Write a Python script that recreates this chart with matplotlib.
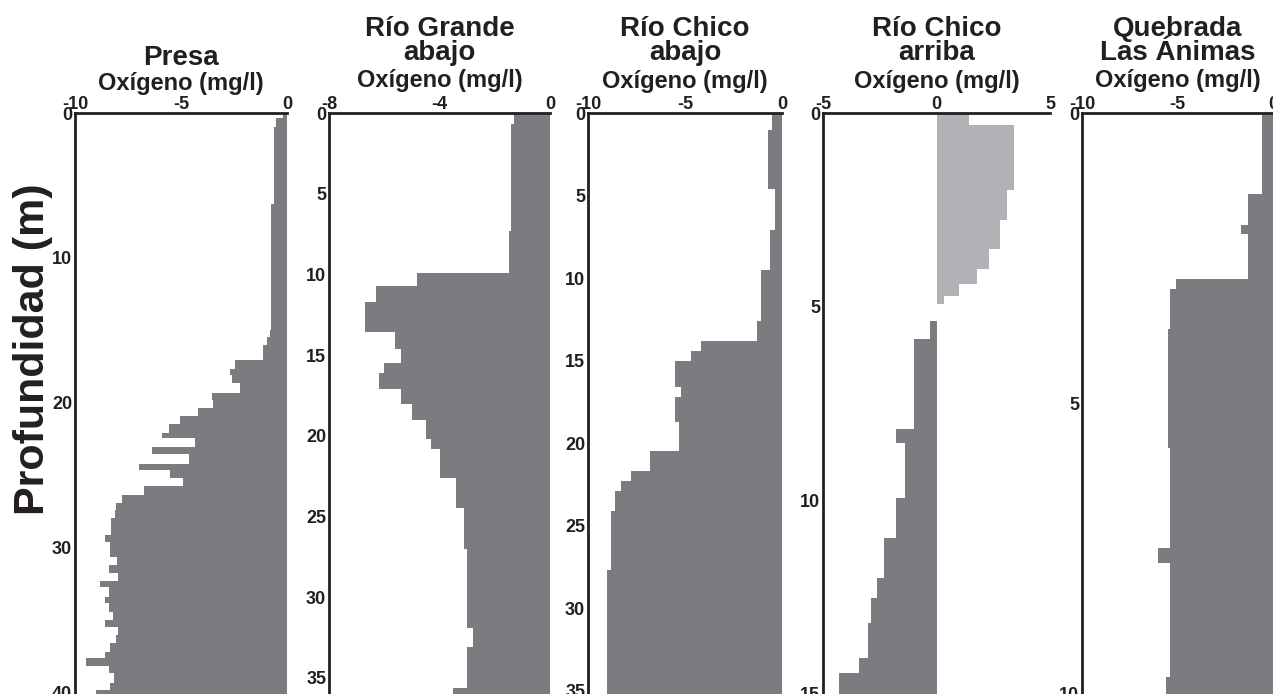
import numpy as np
from matplotlib import pyplot as plt

plt.rcParams['font.family'] = ['Liberation Sans', 'DejaVu Sans']
plt.rcParams['font.weight'] = 'bold'

DARK = '#7b7c80'
LIGHT = '#b1b2b5'
INK = '#231f20'

# Presa
presa_depth = [0, 0.35, 0.95, 6.3, 14.97, 15.43, 16.0, 17.03, 17.68, 18.07, 18.64,
               19.29, 19.79, 20.37, 20.9, 21.47, 22.05, 22.44, 23.06, 23.52, 24.23,
               24.62, 25.2, 25.72, 26.34, 26.87, 27.38, 27.95, 29.1, 29.56, 30.6,
               31.17, 31.7, 32.25, 32.71, 33.36, 33.82, 34.39, 34.97, 35.43, 36.0,
               36.57, 37.15, 37.61, 38.14, 38.64, 39.29, 39.79, 41.0]
presa_oxy = [-0.2, -0.5, -0.6, -0.75, -0.8, -0.96, -1.15, -2.45, -2.7, -2.6, -2.2,
             -3.55, -3.5, -4.2, -5.05, -5.55, -5.9, -4.35, -6.35, -4.6, -7.0, -5.5,
             -4.9, -6.75, -7.8, -8.05, -8.1, -8.3, -8.6, -8.35, -8.0, -8.4, -7.95,
             -8.8, -8.4, -8.6, -8.4, -8.2, -8.6, -7.95, -8.05, -8.35, -8.6, -9.5,
             -8.4, -8.15, -8.35, -9.0]

# Rio Grande abajo
rg_depth = [0, 0.7, 7.3, 9.9, 10.7, 11.7, 13.6, 14.6, 15.5, 16.1, 17.1, 18.0,
            19.0, 20.2, 20.8, 22.6, 24.5, 27.0, 31.9, 33.1, 35.6, 37.0]
rg_oxy = [-1.3, -1.4, -1.5, -4.8, -6.3, -6.7, -5.6, -5.4, -6.0, -6.2, -5.4,
          -5.0, -4.5, -4.3, -4.0, -3.4, -3.1, -3.0, -2.8, -3.0, -3.5]

# Rio Chico abajo
rca_depth = [0, 1.0, 4.6, 7.1, 9.5, 12.6, 13.8, 14.4, 15.0, 16.6, 17.2, 18.7,
             20.5, 21.7, 22.3, 22.9, 24.1, 27.7, 35.6, 37.0]
rca_oxy = [-0.5, -0.7, -0.35, -0.6, -1.1, -1.3, -4.2, -4.7, -5.5, -5.2, -5.5,
           -5.3, -6.8, -7.8, -8.3, -8.6, -8.8, -9.0, -8.8]

# Rio Chico arriba: oxygen above (light) and below (dark) the reference level
rcr_pos_depth = [0, 0.31, 1.98, 2.75, 3.52, 4.04, 4.42, 4.73, 4.94]
rcr_pos_oxy = [1.45, 3.4, 3.1, 2.8, 2.3, 1.8, 1.0, 0.35]
rcr_neg_depth = [5.37, 5.84, 8.15, 8.53, 9.95, 10.98, 12.01, 12.52, 13.16, 14.06,
                 14.45, 15.2]
rcr_neg_oxy = [-0.3, -1.0, -1.8, -1.4, -1.8, -2.3, -2.6, -2.9, -3.0, -3.4, -4.3]

# Quebrada Las Animas
qa_depth = [0, 1.4, 1.92, 2.09, 2.86, 3.03, 3.72, 5.77, 7.48, 7.74, 9.71, 10.5]
qa_oxy = [-0.6, -1.3, -1.7, -1.3, -5.1, -5.4, -5.5, -5.4, -6.0, -5.4, -5.6]

panels = [
    dict(title=['Presa'], left=75, right=287, xlim=(-10, 0), xticks=[-10, -5, 0],
         ymax=40.07, yticks=[0, 10, 20, 30, 40], oxy_y=90,
         series=[(presa_depth, presa_oxy, DARK)]),
    dict(title=['Río Grande', 'abajo'], left=329, right=550, xlim=(-8, 0),
         xticks=[-8, -4, 0], ymax=36.0, yticks=[0, 5, 10, 15, 20, 25, 30, 35],
         oxy_y=87, series=[(rg_depth, rg_oxy, DARK)]),
    dict(title=['Río Chico', 'abajo'], left=588, right=782, xlim=(-10, 0),
         xticks=[-10, -5, 0], ymax=35.2, yticks=[0, 5, 10, 15, 20, 25, 30, 35],
         oxy_y=88, series=[(rca_depth, rca_oxy, DARK)]),
    dict(title=['Río Chico', 'arriba'], left=823, right=1050, xlim=(-5, 5),
         xticks=[-5, 0, 5], ymax=14.95, yticks=[0, 5, 10, 15], oxy_y=88,
         series=[(rcr_pos_depth, rcr_pos_oxy, LIGHT),
                 (rcr_neg_depth, rcr_neg_oxy, DARK)]),
    dict(title=['Quebrada', 'Las Ánimas'], left=1082, right=1273, xlim=(-10, 0),
         xticks=[-10, -5, 0], ymax=9.95, yticks=[0, 5, 10], oxy_y=87,
         series=[(qa_depth, qa_oxy, DARK)]),
]

W, H = 1273, 694
TOP = 113
fig = plt.figure(figsize=(W / 100, H / 100), dpi=100)


def px_text(x, y, s, size):
    fig.text(x / W, 1 - y / H, s, ha='center', va='baseline', fontsize=size,
             fontweight='bold', color=INK)


for i, p in enumerate(panels):
    ax = fig.add_axes([p['left'] / W, 0, (p['right'] - p['left']) / W, (H - TOP) / H])
    for depth, oxy, color in p['series']:
        ax.stairs(oxy, depth, orientation='horizontal', baseline=0, fill=True,
                  color=color, linewidth=0)
    ax.set_xlim(*p['xlim'])
    ax.set_ylim(p['ymax'], 0)
    ax.xaxis.tick_top()
    ax.set_xticks(p['xticks'])
    ax.set_xticklabels([str(t) for t in p['xticks']])
    ax.set_yticks(p['yticks'])
    ax.tick_params(length=0, labelsize=13, pad=0, colors=INK)
    ax.tick_params(axis='y', pad=2)
    for lab in ax.get_xticklabels() + ax.get_yticklabels():
        lab.set_fontweight('bold')
    for side in ['right', 'bottom']:
        ax.spines[side].set_visible(False)
    for side in ['left', 'top']:
        ax.spines[side].set_linewidth(2)
        ax.spines[side].set_color(INK)
    ax.set_facecolor('none')
    if i in (1, 2):
        ax.axvline(0, color='#444444', linewidth=0.9, linestyle=(0, (1, 1.5)))
    elif i == 0:
        ax.axvline(0, color='#999999', linewidth=0.8)

    cx = (p['left'] + p['right']) / 2
    if len(p['title']) == 1:
        px_text(cx, 65, p['title'][0], 20)
    else:
        px_text(cx, 36, p['title'][0], 20)
        px_text(cx, 60, p['title'][1], 20)
    px_text(cx, p['oxy_y'], 'Oxígeno (mg/l)', 17)

fig.text(33 / W, 1 - 349 / H, 'Profundidad (m)', rotation=90, ha='center', va='center',
         fontsize=31, fontweight='bold', color=INK)

plt.savefig('out.png', dpi=100)
